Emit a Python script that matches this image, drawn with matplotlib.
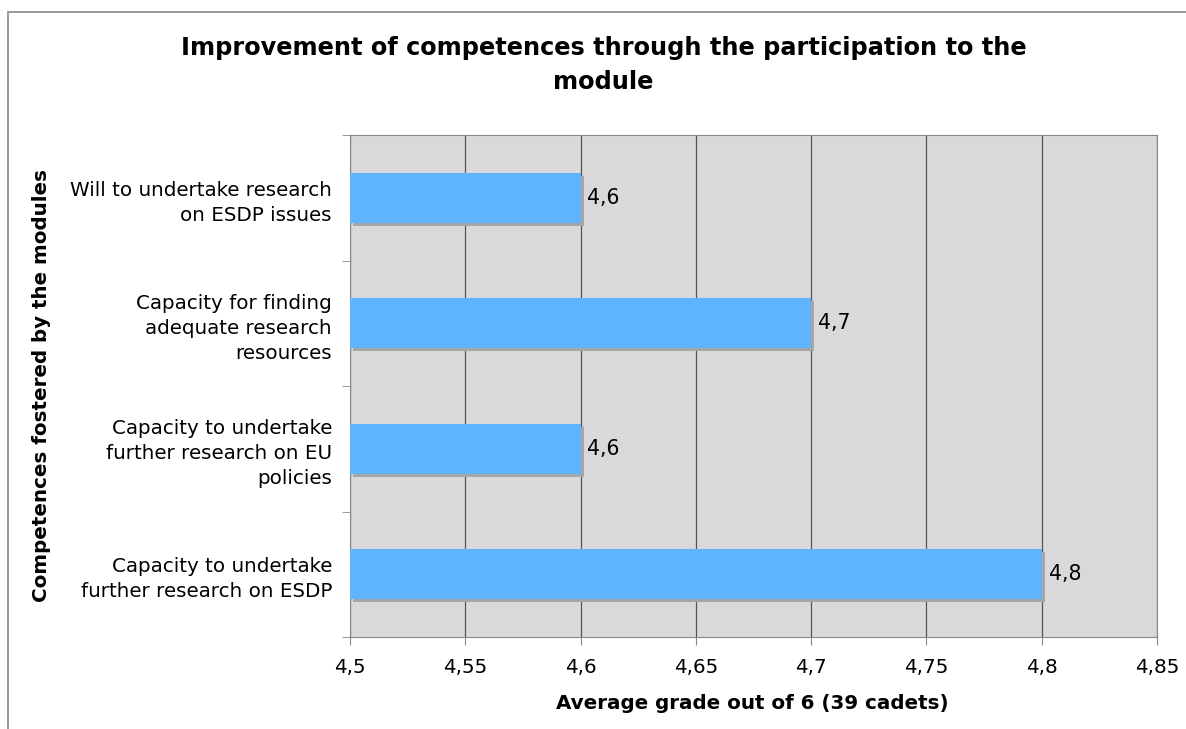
import matplotlib.pyplot as plt
from matplotlib.patches import Rectangle

categories = [
    'Capacity to undertake\nfurther research on ESDP',
    'Capacity to undertake\nfurther research on EU\npolicies',
    'Capacity for finding\nadequate research\nresources',
    'Will to undertake research\non ESDP issues',
]
grades = [4.8, 4.6, 4.7, 4.6]
value_labels = ['4,8', '4,6', '4,7', '4,6']
xticks = [4.5, 4.55, 4.6, 4.65, 4.7, 4.75, 4.8, 4.85]
xtick_labels = ['4,5', '4,55', '4,6', '4,65', '4,7', '4,75', '4,8', '4,85']

plt.rcParams['font.family'] = ['DejaVu Sans']
fs = 14.3

fig = plt.figure(figsize=(11.86, 7.29), dpi=100)
ax = fig.add_axes([350 / 1186, 1 - 637 / 729, 807 / 1186, 502 / 729])

# outer frame of the chart
fig.patches.append(Rectangle((8 / 1186, -0.1), 1.2, 1 - 12 / 729 + 0.1,
                             transform=fig.transFigure, fill=False,
                             edgecolor='#888888', linewidth=1.2))

ax.set_facecolor('#d9d9d9')
ypos = list(range(len(categories)))
base = 4.5
h = 0.4

# shadows
dx = 0.0013
dy = 0.025
ax.barh([y - dy for y in ypos], [g - base for g in grades], left=base + dx,
        height=h, color='#a6a6a6', zorder=2)
ax.barh(ypos, [g - base for g in grades], left=base, height=h,
        color='#5fb4ff', zorder=3)

for y, g, lab in zip(ypos, grades, value_labels):
    ax.text(g + 0.003, y, lab, va='center', ha='left', fontsize=14.8, zorder=4)

ax.set_xlim(4.5, 4.85)
ax.set_ylim(-0.5, 3.5)
ax.set_xticks(xticks)
ax.set_xticklabels(xtick_labels, fontsize=fs)
ax.set_yticks(ypos)
ax.set_yticklabels(categories, fontsize=fs, ha='right', multialignment='right',
                   linespacing=1.4)
ax.set_yticks([-0.5, 0.5, 1.5, 2.5, 3.5], minor=True)
ax.tick_params(axis='y', which='major', length=0, pad=13)
ax.tick_params(axis='y', which='minor', length=6, color='#888888')
ax.tick_params(axis='x', length=6, color='#888888', pad=9)

ax.grid(axis='x', color='#555555', linewidth=0.9, zorder=1)
ax.set_axisbelow(True)
for s in ax.spines.values():
    s.set_color('#888888')

ax.set_xlabel('Average grade out of 6 (39 cadets)', fontsize=fs,
              fontweight='bold', va='center')
ax.xaxis.set_label_coords(0.498, -0.1315)
ax.set_ylabel('Competences fostered by the modules', fontsize=fs,
              fontweight='bold', va='center')
ax.yaxis.set_label_coords(-0.3817, 0.5)
fig.text(0.509, 1 - 65 / 729,
         'Improvement of competences through the participation to the\nmodule',
         fontsize=17.3, fontweight='bold', ha='center', va='center',
         linespacing=1.5)

fig.savefig('out.png', dpi=100)
